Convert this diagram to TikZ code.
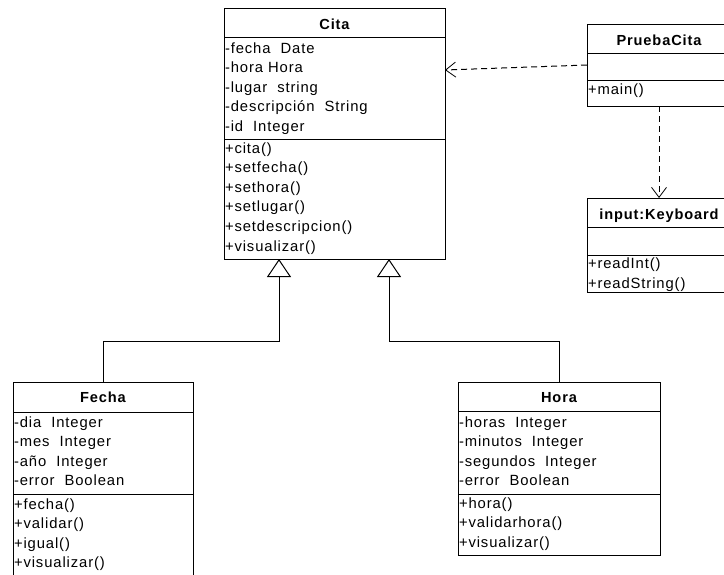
\documentclass[tikz,border=0pt]{standalone}
\usepackage{fontspec}
\newfontfamily\umlf{Liberation Sans}[LetterSpace=6]
\usetikzlibrary{arrows.meta}
\tikzset{
  box/.style={draw=black, line width=1pt, inner sep=0pt, outer sep=0pt, fill=white},
  sep/.style={draw=black, line width=1pt},
  txt/.style={anchor=base west, inner sep=0pt, outer sep=0pt, font=\umlf\fontsize{14.8}{16}\selectfont},
  ttl/.style={anchor=base, inner sep=0pt, outer sep=0pt, font=\umlf\bfseries\fontsize{14.6}{16}\selectfont},
  gen/.style={draw=black, line width=1pt, -{Triangle[open, length=18pt, width=24pt, line width=1pt]}},
  dep/.style={draw=black, line width=1pt, dash pattern=on 6pt off 4pt, -{Straight Barb[length=10pt, width=15pt, line width=0.8pt]}}
}
\newcommand\umllines[4]{%
  \foreach \t [count=\i from 0] in {#4} {\node[txt] (#1-\i) at (#2, #3+\i*19.6) {\t};}%
}
\begin{document}
\begin{tikzpicture}[x=1pt, y=-1pt]
\useasboundingbox (0,0) rectangle (724,574);
% Cita
\node[box, minimum width=221pt, minimum height=251pt] (cita) at (334.5,133.5) {};
\draw[sep] (cita.west |- 0,37) -- (cita.east |- 0,37);
\draw[sep] (cita.west |- 0,139) -- (cita.east |- 0,139);
\node[ttl] (citat) at (334.5,29) {Cita};
\umllines{citaa}{225}{53}{-fecha~~Date,-hora~Hora,-lugar~~string,-descripción~~String,-id~~Integer}
\umllines{citam}{225}{153}{+cita(),+setfecha(),+sethora(),+setlugar(),+setdescripcion(),+visualizar()}
% PruebaCita
\node[box, minimum width=144pt, minimum height=82pt] (pc) at (659,65) {};
\draw[sep] (pc.west |- 0,53) -- (pc.east |- 0,53);
\draw[sep] (pc.west |- 0,80) -- (pc.east |- 0,80);
\node[ttl] (pct) at (659,45) {PruebaCita};
\umllines{pcm}{588}{94}{+main()}
% input:Keyboard
\node[box, minimum width=144pt, minimum height=94pt] (kb) at (659,245) {};
\draw[sep] (kb.west |- 0,227) -- (kb.east |- 0,227);
\draw[sep] (kb.west |- 0,255) -- (kb.east |- 0,255);
\node[ttl] (kbt) at (659,219) {input:Keyboard};
\umllines{kbm}{588}{268.5}{+readInt(),+readString()}
% Fecha
\node[box, minimum width=180pt, minimum height=198pt] (fecha) at (103,481) {};
\draw[sep] (fecha.west |- 0,412) -- (fecha.east |- 0,412);
\draw[sep] (fecha.west |- 0,494) -- (fecha.east |- 0,494);
\node[ttl] (fechat) at (103,402) {Fecha};
\umllines{fechaa}{14}{427}{-dia~~Integer,-mes~~Integer,-año~~Integer,-error~~Boolean}
\umllines{fecham}{14}{509}{+fecha(),+validar(),+igual(),+visualizar()}
% Hora
\node[box, minimum width=202pt, minimum height=173pt] (hora) at (559,468.5) {};
\draw[sep] (hora.west |- 0,411) -- (hora.east |- 0,411);
\draw[sep] (hora.west |- 0,494) -- (hora.east |- 0,494);
\node[ttl] (horat) at (559,402) {Hora};
\umllines{horaa}{459}{427}{-horas~~Integer,-minutos~~Integer,-segundos~~Integer,-error~~Boolean}
\umllines{horam}{459}{508}{+hora(),+validarhora(),+visualizar()}
% connectors
\coordinate (b1) at (279,341);
\coordinate (b2) at (389,341);
\draw[gen] (fecha.north) |- (b1) -- (b1 |- cita.south);
\draw[gen] (hora.north) |- (b2) -- (b2 |- cita.south);
\coordinate (ci) at (445,70);
\draw[dep] (pc.west) -- (ci);
\draw[dep] (pc.south) -- (kb.north);
\end{tikzpicture}
\end{document}
